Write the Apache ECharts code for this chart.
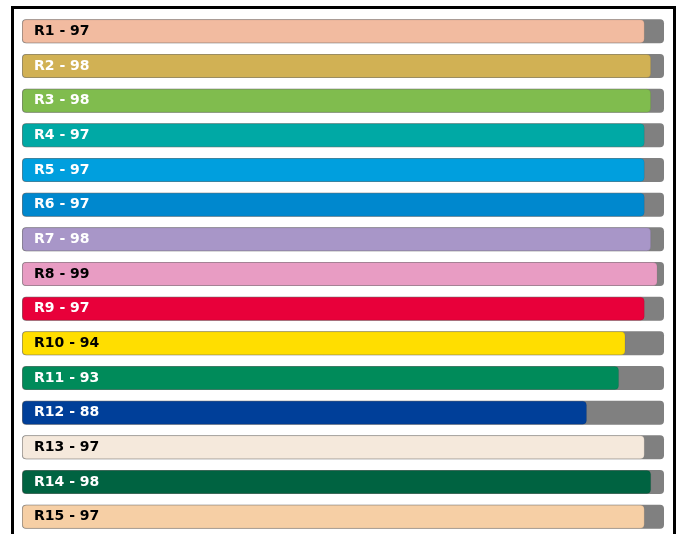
<!DOCTYPE html>
<html>
<head>
<meta charset="utf-8">
<script src="https://cdn.jsdelivr.net/npm/echarts@6/dist/echarts.min.js"></script>
<style>
  html, body { margin: 0; padding: 0; background: #fff; }
  #chart { width: 683px; height: 534px; }
</style>
</head>
<body>
<div id="chart"></div>
<script>
const categories = ['R1', 'R2', 'R3', 'R4', 'R5', 'R6', 'R7', 'R8', 'R9', 'R10', 'R11', 'R12', 'R13', 'R14', 'R15']
const values = [97, 98, 98, 97, 97, 97, 98, 99, 97, 94, 93, 88, 97, 98, 97]
const barColors = ['#F2BBA0', '#D1B154', '#80BC4E', '#00A9A5', '#009FDE', '#0088CE', '#A896C8', '#E89CC3',
  '#E8003A', '#FFDE00', '#008B5A', '#003F99', '#F5E9DC', '#006341', '#F6CFA5']
const labelColors = ['#000', '#fff', '#fff', '#fff', '#fff', '#fff', '#fff', '#000',
  '#fff', '#000', '#fff', '#fff', '#000', '#fff', '#000']

const chart = echarts.init(document.getElementById('chart'))

chart.setOption({
  animation: false,
  grid: { left: 22, right: 19, top: 14, bottom: 0 },
  xAxis: { type: 'value', min: 0, max: 100, show: false },
  yAxis: {
    type: 'category',
    data: categories,
    inverse: true,
    show: false
  },
  graphic: [{
    type: 'rect',
    shape: { x: 12.5, y: 7.5, width: 662, height: 560 },
    style: { fill: 'none', stroke: '#000', lineWidth: 3 },
    z: 100
  }],
  series: [{
    type: 'bar',
    barWidth: 24,
    showBackground: true,
    backgroundStyle: { color: '#808080', borderRadius: 4 },
    data: values.map((v, i) => ({
      value: v,
      itemStyle: {
        color: barColors[i],
        borderRadius: 4,
        borderColor: 'rgba(0,0,0,0.08)',
        borderWidth: 1
      },
      label: { color: labelColors[i] }
    })),
    label: {
      show: true,
      position: 'insideLeft',
      distance: 12,
      fontFamily: 'DejaVu Sans',
      fontWeight: 'bold',
      fontSize: 14,
      formatter: p => p.name + ' - ' + p.value
    }
  }]
})
</script>
</body>
</html>
